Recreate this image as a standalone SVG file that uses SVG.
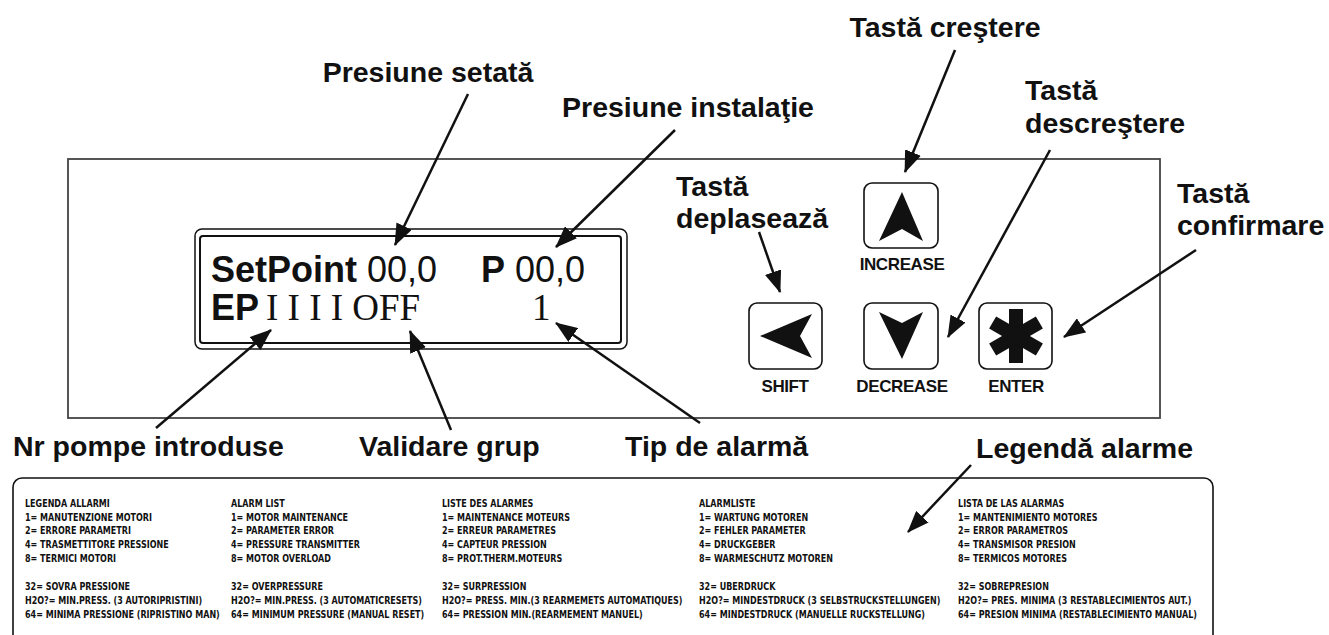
<svg xmlns="http://www.w3.org/2000/svg" width="1329" height="635" viewBox="0 0 1329 635">
<style>
.lbl{font-family:"Liberation Sans",Arial,sans-serif;font-weight:bold;font-size:28.5px;fill:#111}
.btn{fill:#fff;stroke:#111;stroke-width:1.6}
.btxt{font-family:"Liberation Sans",Arial,sans-serif;font-weight:bold;font-size:17px;letter-spacing:-0.4px;fill:#111;text-anchor:middle}
.lcd{font-family:"Liberation Sans",Arial,sans-serif;font-size:36px;fill:#111}
.tms{font-family:"Liberation Serif","Times New Roman",serif;font-size:37px;fill:#111}
.leg{font-family:"DejaVu Sans Condensed","Liberation Sans",sans-serif;font-weight:bold;font-size:10.5px;fill:#111}
.con{stroke:#111;stroke-width:2.5;fill:none;marker-end:url(#ah)}
</style>
<defs>
<marker id="ah" viewBox="0 0 22 17" refX="21" refY="8.5" markerWidth="22" markerHeight="17" markerUnits="userSpaceOnUse" orient="auto">
<path d="M0,0 L22,8.5 L0,17 z" fill="#111"/>
</marker>
</defs>
<rect width="1329" height="635" fill="#fff"/>

<g id="panel">
<rect x="68" y="159" width="1092" height="259" fill="none" stroke="#444" stroke-width="1.8"/>
</g>

<g id="lcd">
<rect x="195" y="229" width="432" height="120" rx="7" fill="none" stroke="#111" stroke-width="1.5"/>
<rect x="200" y="236" width="421" height="107" rx="3" fill="none" stroke="#111" stroke-width="2"/>
<text class="lcd" x="211" y="282"><tspan font-weight="bold">SetPoint</tspan> 00,0</text>
<text class="lcd" x="481" y="282"><tspan font-weight="bold">P</tspan> 00,0</text>
<text class="lcd" x="211" y="320" font-weight="bold">EP</text>
<text class="tms" x="266" y="320">I I I I OFF</text>
<text class="tms" x="532" y="320">1</text>
</g>

<g id="btn-increase">
<rect class="btn" x="864" y="183" width="74" height="65" rx="8"/>
<path d="M902,192 L923,241 L902,229 L879,241 z" fill="#111"/>
<text class="btxt" x="902" y="270">INCREASE</text>
</g>
<g id="btn-shift">
<rect class="btn" x="749" y="303" width="73" height="66" rx="8"/>
<path d="M760,336 L812,314 L800,336 L812,358 z" fill="#111"/>
<text class="btxt" x="785" y="392">SHIFT</text>
</g>
<g id="btn-decrease">
<rect class="btn" x="864" y="303" width="74" height="66" rx="8"/>
<path d="M902,359 L879,312 L902,323 L923,312 z" fill="#111"/>
<text class="btxt" x="902" y="392">DECREASE</text>
</g>
<g id="btn-enter">
<rect class="btn" x="979" y="303" width="73" height="66" rx="8"/>
<g fill="#111" transform="translate(1016,336)">
<rect x="-7" y="-27" width="14" height="54"/>
<rect x="-7" y="-27" width="14" height="54" transform="rotate(60)"/>
<rect x="-7" y="-27" width="14" height="54" transform="rotate(-60)"/>
</g>
<text class="btxt" x="1016" y="392">ENTER</text>
</g>

<g id="labels">
<text class="lbl" x="428" y="82" text-anchor="middle">Presiune setată</text>
<text class="lbl" x="688" y="117" text-anchor="middle">Presiune instalaţie</text>
<text class="lbl" x="945" y="37" text-anchor="middle">Tastă creştere</text>
<text class="lbl" x="1025" y="100">Tastă</text>
<text class="lbl" x="1025" y="133">descreştere</text>
<text class="lbl" x="1177" y="203">Tastă</text>
<text class="lbl" x="1177" y="235">confirmare</text>
<text class="lbl" x="676" y="196">Tastă</text>
<text class="lbl" x="676" y="228">deplasează</text>
<text class="lbl" x="13" y="456">Nr pompe introduse</text>
<text class="lbl" x="359" y="456">Validare grup</text>
<text class="lbl" x="625" y="456">Tip de alarmă</text>
<text class="lbl" x="976" y="458">Legendă alarme</text>
</g>

<g id="connectors">
<line class="con" x1="468" y1="94" x2="395" y2="245"/>
<line class="con" x1="675" y1="130" x2="556" y2="247"/>
<line class="con" x1="955" y1="50" x2="905" y2="172"/>
<line class="con" x1="1050" y1="150" x2="948" y2="337"/>
<line class="con" x1="759" y1="232" x2="780" y2="292"/>
<line class="con" x1="1196" y1="250" x2="1064" y2="337"/>
<line class="con" x1="156" y1="428" x2="271" y2="330"/>
<line class="con" x1="451" y1="430" x2="410" y2="331"/>
<line class="con" x1="700" y1="423" x2="556" y2="323"/>
<line class="con" x1="971" y1="465" x2="908" y2="532"/>
</g>

<g id="legend">
<rect x="13" y="478" width="1200" height="190" rx="9" fill="none" stroke="#111" stroke-width="1.6"/>
<g class="leg" transform="scale(0.85,1)">
<text x="29.4" y="507">LEGENDA ALLARMI</text>
<text x="29.4" y="521">1= MANUTENZIONE MOTORI</text>
<text x="29.4" y="534">2= ERRORE PARAMETRI</text>
<text x="29.4" y="548">4= TRASMETTITORE PRESSIONE</text>
<text x="29.4" y="562">8= TERMICI MOTORI</text>
<text x="29.4" y="590">32= SOVRA PRESSIONE</text>
<text x="29.4" y="604">H2O?= MIN.PRESS. (3 AUTORIPRISTINI)</text>
<text x="29.4" y="618">64= MINIMA PRESSIONE (RIPRISTINO MAN)</text>

<text x="271.8" y="507">ALARM LIST</text>
<text x="271.8" y="521">1= MOTOR MAINTENANCE</text>
<text x="271.8" y="534">2= PARAMETER ERROR</text>
<text x="271.8" y="548">4= PRESSURE TRANSMITTER</text>
<text x="271.8" y="562">8= MOTOR OVERLOAD</text>
<text x="271.8" y="590">32= OVERPRESSURE</text>
<text x="271.8" y="604">H2O?= MIN.PRESS. (3 AUTOMATICRESETS)</text>
<text x="271.8" y="618">64= MINIMUM PRESSURE (MANUAL RESET)</text>

<text x="520" y="507">LISTE DES ALARMES</text>
<text x="520" y="521">1= MAINTENANCE MOTEURS</text>
<text x="520" y="534">2= ERREUR PARAMETRES</text>
<text x="520" y="548">4= CAPTEUR PRESSION</text>
<text x="520" y="562">8= PROT.THERM.MOTEURS</text>
<text x="520" y="590">32= SURPRESSION</text>
<text x="520" y="604">H2O?= PRESS. MIN.(3 REARMEMETS AUTOMATIQUES)</text>
<text x="520" y="618">64= PRESSION MIN.(REARMEMENT MANUEL)</text>

<text x="822.4" y="507">ALARMLISTE</text>
<text x="822.4" y="521">1= WARTUNG MOTOREN</text>
<text x="822.4" y="534">2= FEHLER PARAMETER</text>
<text x="822.4" y="548">4= DRUCKGEBER</text>
<text x="822.4" y="562">8= WARMESCHUTZ MOTOREN</text>
<text x="822.4" y="590">32= UBERDRUCK</text>
<text x="822.4" y="604">H2O?= MINDESTDRUCK (3 SELBSTRUCKSTELLUNGEN)</text>
<text x="822.4" y="618">64= MINDESTDRUCK (MANUELLE RUCKSTELLUNG)</text>

<text x="1127.1" y="507">LISTA DE LAS ALARMAS</text>
<text x="1127.1" y="521">1= MANTENIMIENTO MOTORES</text>
<text x="1127.1" y="534">2= ERROR PARAMETROS</text>
<text x="1127.1" y="548">4= TRANSMISOR PRESION</text>
<text x="1127.1" y="562">8= TERMICOS MOTORES</text>
<text x="1127.1" y="590">32= SOBREPRESION</text>
<text x="1127.1" y="604">H2O?= PRES. MINIMA (3 RESTABLECIMIENTOS AUT.)</text>
<text x="1127.1" y="618">64= PRESION MINIMA (RESTABLECIMIENTO MANUAL)</text>
</g>
</g>
</svg>
